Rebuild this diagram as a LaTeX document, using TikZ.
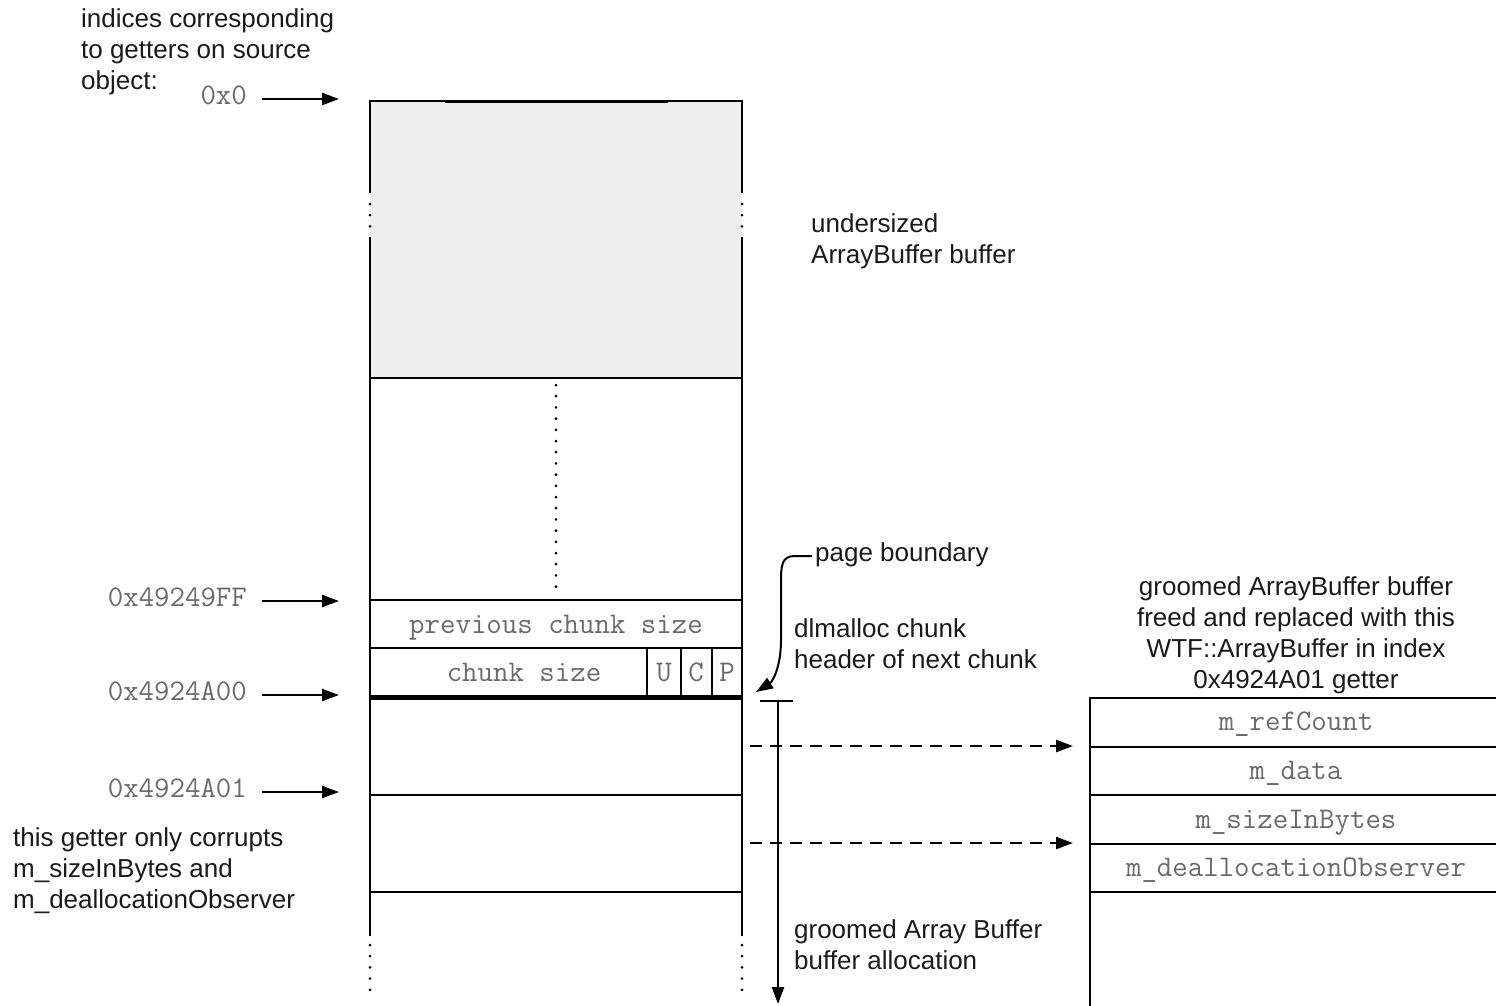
\documentclass[tikz,border=0pt]{standalone}
\usepackage{fontspec}
\setmainfont{Liberation Sans}
\usetikzlibrary{arrows.meta}
\definecolor{txt}{HTML}{1A1A1A}
\definecolor{mono}{HTML}{6A6A6A}
\definecolor{fillg}{HTML}{EEEEEE}
\begin{document}
\begin{tikzpicture}[x=1pt,y=-1pt,
  line width=2.3pt,
  lbl/.style={font=\fontsize{26}{31}\selectfont, text=txt, align=left, inner sep=0pt},
  clbl/.style={font=\fontsize{26}{31}\selectfont, text=txt, align=center, inner sep=0pt},
  mlbl/.style={font=\ttfamily\fontsize{30}{31}\selectfont, text=mono, inner sep=0pt},
  arr/.style={-{Triangle[length=17pt,width=12pt]}, line width=2.3pt},
  dashedarr/.style={arr, dash pattern=on 12pt off 8pt},
  dotline/.style={line width=3pt, line cap=round, dash pattern=on 0pt off 11.2pt},
  thickrule/.style={line width=5pt},
]
\useasboundingbox (0,0) rectangle (1496,1005);

% ---- main column ----
\fill[fillg] (370,101) rectangle (742,378);
\draw (370,101) -- (742,101);
\draw[line width=3pt] (445,101) -- (668,101);
\foreach \xx in {370,742}{
  \draw (\xx,100) -- (\xx,193);
  \draw[dotline] (\xx,204) -- (\xx,228);
  \draw (\xx,237) -- (\xx,936);
  \draw[dotline] (\xx,945) -- (\xx,991);
}
\foreach \yy in {378,600,648,795,892}{
  \draw (370,\yy) -- (742,\yy);
}
\draw[thickrule] (370,697) -- (742,697);
\draw[dotline] (556,385) -- (556,587);
\foreach \xx in {647,681,712}{
  \draw (\xx,648) -- (\xx,697);
}

% ---- cells ----
\node[mlbl, anchor=base] (prev) at (556,633) {previous chunk size};
\node[mlbl, anchor=base] (csize) at (524,681) {chunk size};
\node[mlbl, anchor=base] (flagU) at (664,681) {U};
\node[mlbl, anchor=base] (flagC) at (696,681) {C};
\node[mlbl, anchor=base] (flagP) at (727,681) {P};

% ---- address labels and arrows ----
\node[lbl, anchor=north west] (idx) at (80,8) {indices corresponding\\to getters on source\\object:};
\node[mlbl, anchor=base east] (a0) at (248,104) {0x0};
\node[mlbl, anchor=base east] (a1) at (248,606) {0x49249FF};
\node[mlbl, anchor=base east] (a2) at (248,700) {0x4924A00};
\node[mlbl, anchor=base east] (a3) at (248,797) {0x4924A01};
\foreach \n/\yy in {0/99,1/601,2/695,3/792}{
  \coordinate (s\n) at (262,\yy);
  \coordinate (e\n) at (339,\yy);
  \draw[arr] (s\n) -- (e\n);
}
\node[lbl, anchor=north west] (corr) at (12,826) {this getter only corrupts\\m\_sizeInBytes and\\m\_deallocationObserver};

% ---- right-side annotations ----
\node[lbl, anchor=north west] (under) at (810,213) {undersized\\ArrayBuffer buffer};
\node[lbl, anchor=base west] (page) at (814,561) {page boundary};
\coordinate (pgstart) at (812,556);
\coordinate (pgtip) at (756,692);
\draw[arr, line width=2pt] (pgstart) -- (795,556) .. controls (781,556) and (781,566) .. (781,585) -- (781,640) .. controls (781,668) and (772,682) .. (pgtip);
\node[lbl, anchor=north west] (dlm) at (793,617) {dlmalloc chunk\\header of next chunk};

\coordinate (tl) at (760,701);
\coordinate (tr) at (793,701);
\coordinate (tm) at (778,701);
\coordinate (tb) at (778,1004);
\draw (tl) -- (tr);
\draw[arr] (tm) -- (tb);
\node[lbl, anchor=north west] (groomed) at (793,918) {groomed Array Buffer\\buffer allocation};

% ---- dashed arrows ----
\coordinate (d1s) at (750,746);
\coordinate (d1e) at (1073,746);
\coordinate (d2s) at (750,843);
\coordinate (d2e) at (1073,843);
\draw[dashedarr] (d1s) -- (d1e);
\draw[dashedarr] (d2s) -- (d2e);

% ---- right box ----
\node[clbl, anchor=north] (head) at (1296,575) {groomed ArrayBuffer buffer\\freed and replaced with this\\WTF::ArrayBuffer in index\\0x4924A01 getter};
\draw (1496,698) -- (1090,698) -- (1090,1006);
\foreach \yy in {747,795,844,892}{
  \draw (1090,\yy) -- (1496,\yy);
}
\node[mlbl, anchor=base] (rc) at (1296,730) {m\_refCount};
\node[mlbl, anchor=base] (md) at (1296,779) {m\_data};
\node[mlbl, anchor=base] (ms) at (1296,828) {m\_sizeInBytes};
\node[mlbl, anchor=base] (mo) at (1296,876) {m\_deallocationObserver};
\end{tikzpicture}
\end{document}
